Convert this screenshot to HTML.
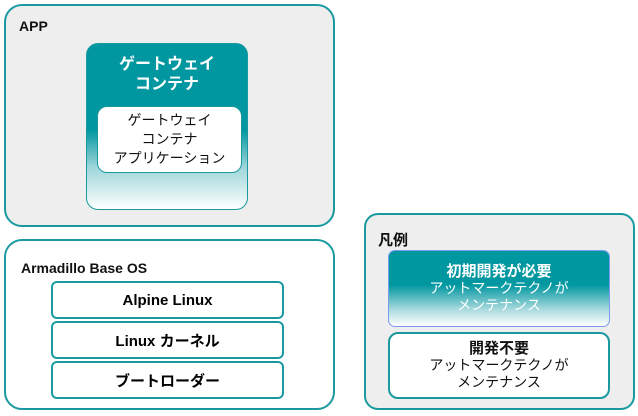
<!DOCTYPE html>
<html><head><meta charset="utf-8"><style>
body{margin:0;width:638px;height:416px;background:#fff;position:relative;font-family:"Liberation Sans","Noto Sans CJK JP",sans-serif;overflow:hidden}
.b{position:absolute;box-sizing:border-box}
.t{position:absolute;font-weight:bold;font-size:14px;color:#111}
.c{display:flex;flex-direction:column;align-items:center;justify-content:center;text-align:center}
</style></head><body>
<div class="b" style="left:4px;top:4px;width:331px;height:223px;background:#eeeeee;border:2px solid #1a9aa0;border-radius:18px"></div>
<div class="t" style="left:19px;top:18px">APP</div>
<div class="b" style="left:86px;top:43px;width:162px;height:167px;border:1px solid #1a9aa0;border-radius:12px;background:linear-gradient(#0097a0 0%,#0097a0 52%,#9fd6da 75%,#fff 100%)"></div>
<div class="b c" style="left:86px;top:55px;width:162px;color:#fff;font-weight:bold;font-size:16px;line-height:20px">ゲートウェイ<br>コンテナ</div>
<div class="b c" style="left:97px;top:106px;width:145px;height:67px;background:#fff;border:1px solid #1a9aa0;border-radius:10px;font-size:14px;line-height:19px;color:#111">ゲートウェイ<br>コンテナ<br>アプリケーション</div>

<div class="b" style="left:4px;top:239px;width:331px;height:171px;background:#fff;border:2px solid #1a9aa0;border-radius:18px"></div>
<div class="t" style="left:21px;top:260px">Armadillo Base OS</div>
<div class="b c" style="left:51px;top:281px;width:233px;height:38px;border:2px solid #1a9aa0;border-radius:6px;font-weight:bold;font-size:15px">Alpine Linux</div>
<div class="b c" style="left:51px;top:321px;width:233px;height:38px;border:2px solid #1a9aa0;border-radius:6px;font-weight:bold;font-size:15px">Linux カーネル</div>
<div class="b c" style="left:51px;top:361px;width:233px;height:38px;border:2px solid #1a9aa0;border-radius:6px;font-weight:bold;font-size:15px">ブートローダー</div>

<div class="b" style="left:364px;top:213px;width:271px;height:197px;background:#eeeeee;border:2px solid #1a9aa0;border-radius:14px"></div>
<div class="t" style="left:378px;top:229px;font-size:15px">凡例</div>
<div class="b c" style="left:388px;top:250px;width:222px;height:77px;border:1px solid #7a9cf0;border-radius:7px;background:linear-gradient(#0097a0 0%,#0097a0 45%,#a9dade 78%,#fff 100%);color:#fff;font-size:14px;line-height:17px"><b style="font-size:15px">初期開発が必要</b>アットマークテクノが<br>メンテナンス</div>
<div class="b c" style="left:388px;top:332px;width:222px;height:67px;background:#fff;border:2px solid #1a9aa0;border-radius:10px;font-size:14px;line-height:17px;color:#111"><b style="font-size:15px">開発不要</b>アットマークテクノが<br>メンテナンス</div>
</body></html>
